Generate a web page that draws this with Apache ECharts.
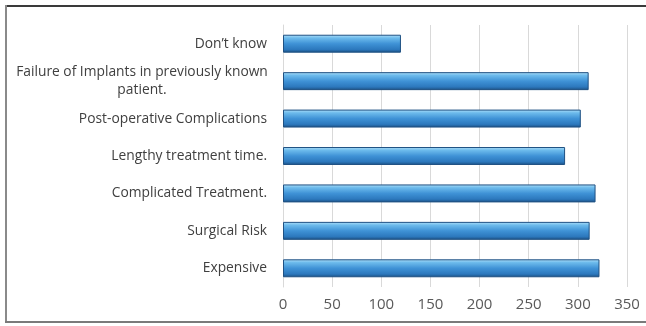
<!DOCTYPE html>
<html>
<head>
<meta charset="utf-8">
<script src="https://cdn.jsdelivr.net/npm/echarts@6/dist/echarts.min.js"></script>
<style>
  html, body { margin: 0; padding: 0; background: #fff; overflow: hidden; }
  #chart { width: 646px; height: 326px; }
</style>
</head>
<body>
<div id="chart"></div>
<script>
// categories listed top to bottom
const categories = [
    'Don\u2019t know',
    'Failure of Implants in previously known\npatient.',
    'Post-operative Complications',
    'Lengthy treatment time.',
    'Complicated Treatment.',
    'Surgical Risk',
    'Expensive'
];
const counts = [120, 311, 303, 287, 318, 312, 322];
const xTicks = { min: 0, max: 350, step: 50 };

const chart = echarts.init(document.getElementById('chart'));

const barFill = new echarts.graphic.LinearGradient(0, 0, 0, 1, [
    { offset: 0, color: '#b4e2fa' },
    { offset: 0.18, color: '#6dbbec' },
    { offset: 0.5, color: '#3f92d6' },
    { offset: 0.82, color: '#2c78bd' },
    { offset: 1, color: '#1b4e80' }
]);

chart.setOption({
    animation: false,
    // outer frame of the figure: top, left and bottom edges only
    graphic: [
        { type: 'line', shape: { x1: 5, y1: 6, x2: 646, y2: 6 }, style: { stroke: '#3a3a3a', lineWidth: 2 } },
        { type: 'line', shape: { x1: 6, y1: 5, x2: 6, y2: 323 }, style: { stroke: '#8a8a8a', lineWidth: 2 } },
        { type: 'line', shape: { x1: 5, y1: 322, x2: 646, y2: 322 }, style: { stroke: '#7a7a7a', lineWidth: 2 } }
    ],
    grid: { left: 283, right: 19, top: 25, bottom: 39 },
    xAxis: {
        type: 'value',
        min: xTicks.min,
        max: xTicks.max,
        interval: xTicks.step,
        axisLine: { show: false },
        axisTick: { show: false },
        axisLabel: { color: '#595959', fontSize: 15, fontFamily: 'Open Sans', margin: 10 },
        splitLine: { lineStyle: { color: '#d9d9d9', width: 1 } }
    },
    yAxis: {
        type: 'category',
        data: categories,
        inverse: true,
        axisLine: { show: true, lineStyle: { color: '#d9d9d9' } },
        axisTick: { show: false },
        axisLabel: {
            color: '#404040',
            fontSize: 13.8,
            fontFamily: 'Open Sans',
            margin: 16,
            formatter: v => v.indexOf('\n') >= 0
                ? v.split('\n').map(s => '{w|' + s + '}').join('\n')
                : v,
            rich: {
                w: { width: 250, align: 'center', color: '#404040', fontSize: 13.8, fontFamily: 'Open Sans', lineHeight: 18 }
            }
        }
    },
    series: [{
        type: 'bar',
        data: counts,
        barWidth: '48%',
        itemStyle: { color: barFill, borderColor: '#1f5183', borderWidth: 1 }
    }]
});
</script>
</body>
</html>
